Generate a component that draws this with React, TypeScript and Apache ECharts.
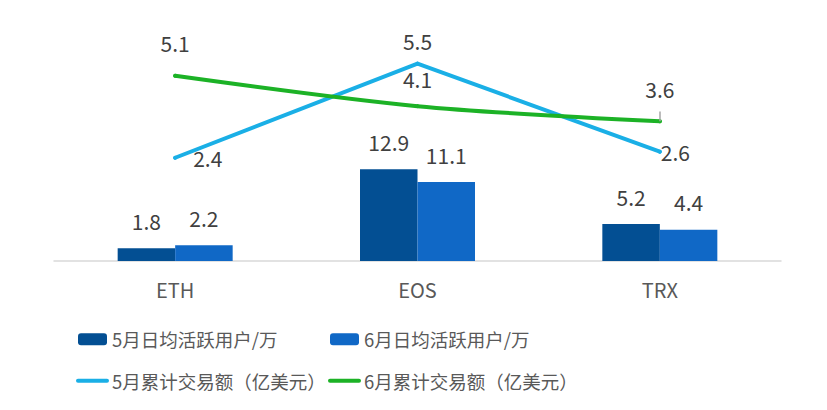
import React, { useEffect, useRef } from "react";
import * as echarts from "echarts";

// Chains on the category axis
const chains = ["ETH", "EOS", "TRX"];

// Daily active users (10k), bars on the left axis
const mayUsers = [1.8, 12.9, 5.2];
const juneUsers = [2.2, 11.1, 4.4];

// Cumulative volume (100M USD), lines on the right axis
const mayVolume = [2.4, 5.5, 2.6];
const juneVolume = [5.1, 4.1, 3.6];

const NAME_MAY_USERS = "5月日均活跃用户/万";
const NAME_JUNE_USERS = "6月日均活跃用户/万";
const NAME_MAY_VOL = "5月累计交易额（亿美元）";
const NAME_JUNE_VOL = "6月累计交易额（亿美元）";

const FONT = '"Noto Sans CJK SC", "Noto Sans", sans-serif';
const LABEL_COLOR = "#404040";
const TEXT_COLOR = "#595959";

const COLOR_MAY_BAR = "#034F93";
const COLOR_JUNE_BAR = "#1068C6";
const COLOR_MAY_LINE = "#1AAFE6";
const COLOR_JUNE_LINE = "#1CB226";

// label placement per point of the line series
const mayVolLabels = [
  { position: "right", distance: 16 },
  { position: "top", distance: 10 },
  { position: "right", distance: -1 },
];
const juneVolLabels = [
  { position: "top", distance: 20 },
  { position: "top", distance: 15 },
  { position: "top", distance: 20 },
];

export default function App() {
  const ref = useRef<HTMLDivElement>(null);

  useEffect(() => {
    if (!ref.current) return;
    const chart = echarts.init(ref.current, null, { renderer: "svg" });

    const labelText = {
      color: LABEL_COLOR,
      fontSize: 21,
      fontFamily: FONT,
    };

    const lineItem = (v: number, l: { position: string; distance: number }) => ({
      value: v,
      label: { position: l.position, distance: l.distance },
    });

    const legendCommon = {
      orient: "vertical",
      padding: 0,
      itemWidth: 29,
      itemHeight: 12,
      itemGap: 23,
      selectedMode: false,
      textStyle: { color: TEXT_COLOR, fontSize: 18.5, fontFamily: FONT },
      lineStyle: { width: 4, cap: "round" },
    };

    chart.setOption({
      animation: false,
      backgroundColor: "#ffffff",
      grid: { left: 54, right: 46, top: 12, bottom: 149, containLabel: false },
      legend: [
        {
          ...legendCommon,
          left: 76,
          top: 330,
          data: [
            { name: NAME_MAY_USERS },
            { name: NAME_MAY_VOL, itemStyle: { opacity: 0 } },
          ],
        },
        {
          ...legendCommon,
          left: 328,
          top: 330,
          data: [
            { name: NAME_JUNE_USERS },
            { name: NAME_JUNE_VOL, itemStyle: { opacity: 0 } },
          ],
        },
      ],
      xAxis: {
        type: "category",
        data: chains,
        axisLine: { show: true, lineStyle: { color: "#D9D9D9", width: 1.5 } },
        axisTick: { show: false },
        axisLabel: {
          color: TEXT_COLOR,
          fontSize: 20,
          fontFamily: FONT,
          margin: 18,
        },
      },
      yAxis: [
        { type: "value", min: 0, max: 35, show: false, splitLine: { show: false } },
        { type: "value", min: -1, max: 7.2, show: false, splitLine: { show: false } },
      ],
      series: [
        {
          name: NAME_MAY_USERS,
          type: "bar",
          yAxisIndex: 0,
          data: mayUsers,
          barWidth: 57.5,
          barGap: "0%",
          itemStyle: { color: COLOR_MAY_BAR },
          label: { show: true, position: "top", distance: 17, ...labelText },
        },
        {
          name: NAME_JUNE_USERS,
          type: "bar",
          yAxisIndex: 0,
          data: juneUsers,
          barWidth: 57.5,
          barGap: "0%",
          itemStyle: { color: COLOR_JUNE_BAR },
          label: { show: true, position: "top", distance: 17, ...labelText },
        },
        {
          name: NAME_MAY_VOL,
          type: "line",
          yAxisIndex: 1,
          data: mayVolume.map((v, i) => lineItem(v, mayVolLabels[i])),
          symbol: "circle",
          symbolSize: 4,
          showSymbol: true,
          itemStyle: { color: COLOR_MAY_LINE },
          lineStyle: { color: COLOR_MAY_LINE, width: 4, cap: "round", join: "round" },
          label: { show: true, ...labelText },
          z: 3,
        },
        {
          name: NAME_JUNE_VOL,
          type: "line",
          yAxisIndex: 1,
          data: juneVolume.map((v, i) => lineItem(v, juneVolLabels[i])),
          smooth: 0.3,
          symbol: "circle",
          symbolSize: 4,
          showSymbol: true,
          itemStyle: { color: COLOR_JUNE_LINE },
          lineStyle: { color: COLOR_JUNE_LINE, width: 4, cap: "round", join: "round" },
          label: { show: true, ...labelText },
          z: 3,
          markLine: {
            silent: true,
            symbol: ["none", "none"],
            label: { show: false },
            lineStyle: { color: "#A6A6A6", width: 1.5, type: "solid" },
            data: [
              [
                { coord: [chains[2], juneVolume[2]] },
                { coord: [chains[2], juneVolume[2] + 0.32] },
              ],
            ],
          },
        },
      ],
    });

    return () => chart.dispose();
  }, []);

  return (
    <div
      ref={ref}
      style={{ position: "absolute", left: 0, top: 0, width: 827, height: 410 }}
    />
  );
}
